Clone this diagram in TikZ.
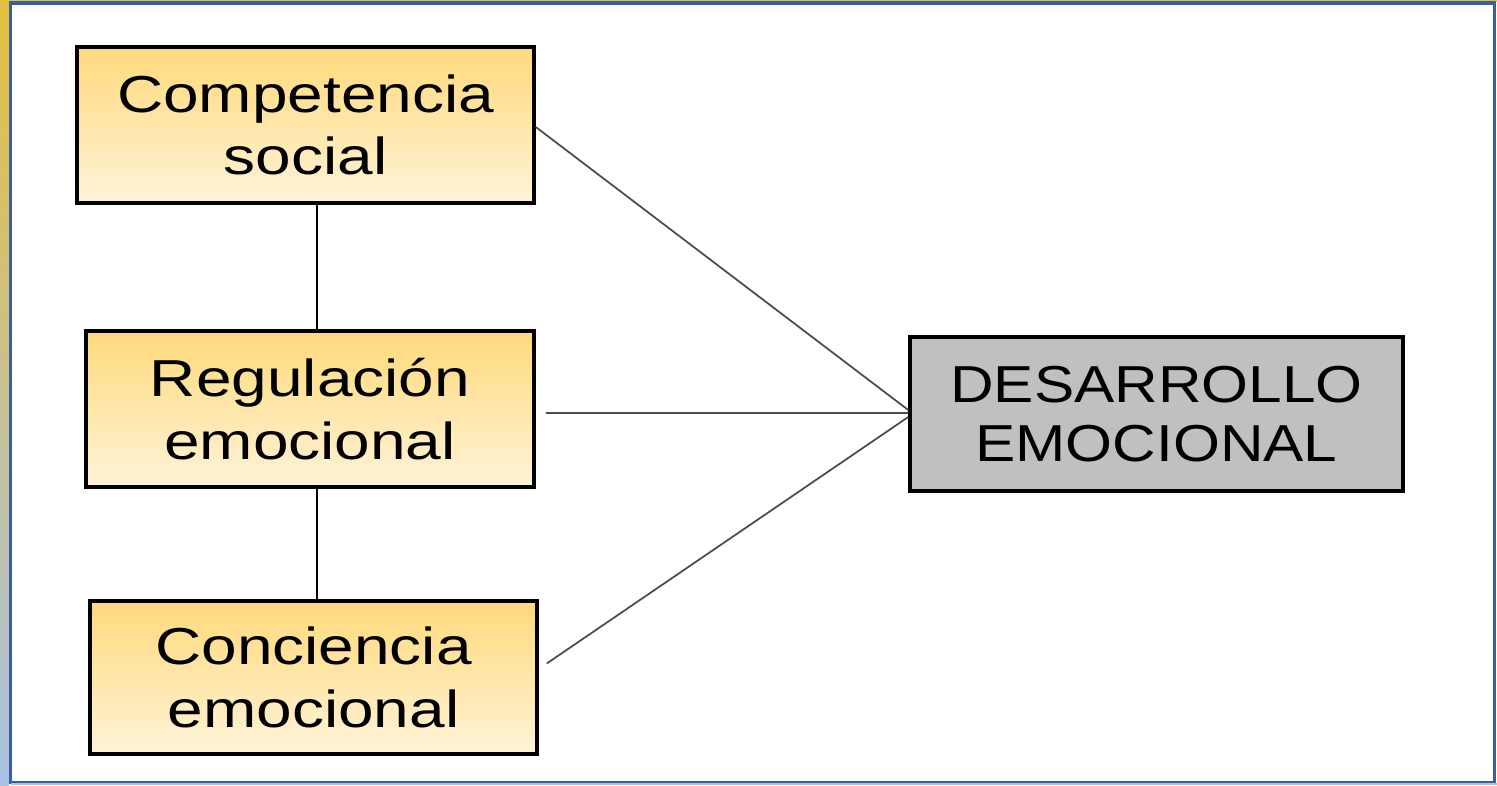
\documentclass[tikz,border=0pt]{standalone}
\usepackage{fontspec}
\setmainfont{Liberation Sans}
\newfontfamily\wideA[FakeStretch=1.23]{Liberation Sans}
\newfontfamily\wideB[FakeStretch=1.16]{Liberation Sans}
\usetikzlibrary{arrows}

\definecolor{gold}{HTML}{E6C03C}
\definecolor{paleblue}{HTML}{A9C0E2}
\definecolor{frameblue}{HTML}{3D5E9E}
\definecolor{boxtop}{HTML}{FFDA7C}
\definecolor{boxbot}{HTML}{FFF3D8}
\definecolor{boxgray}{HTML}{C0C0C0}

\tikzset{
	factor/.style={draw=black, line width=0.07cm, top color=boxtop, bottom color=boxbot,
		inner sep=0pt, align=center, font=\wideA\fontsize{29.6}{35.6}\selectfont},
	result/.style={draw=black, line width=0.07cm, fill=boxgray,
		inner sep=0pt, align=center, font=\wideB\fontsize{29.6}{34}\selectfont},
	link/.style={draw=black!70, line width=0.035cm}
}

\begin{document}
\begin{tikzpicture}[x=0.02cm,y=-0.02cm]
	\useasboundingbox (0,0) rectangle (1497,785);
	% frame
	\fill[white] (0,0) rectangle (1497,785);
	\shade[top color=gold, bottom color=paleblue] (0,0) rectangle (9,785);
	\fill[gold] (9,0) rectangle (1497,1.5);
	\draw[frameblue, line width=0.07cm] (10.5,3) rectangle (1494.5,782.5);
	\draw[paleblue, line width=0.04cm] (10.5,784) -- (1497,784);

	% boxes
	\node[factor, minimum width=457*0.02cm, minimum height=156*0.02cm] (cs) at (305.5,125) {Competencia\\social};
	\node[factor, minimum width=448*0.02cm, minimum height=156*0.02cm] (re) at (310,409) {Regulación\\emocional};
	\node[factor, minimum width=447*0.02cm, minimum height=153*0.02cm] (ce) at (313.5,677.5) {Conciencia\\emocional};
	\node[result, minimum width=493*0.02cm, minimum height=154*0.02cm] (de) at (1156.5,414) {DESARROLLO\\EMOCIONAL};

	% links
	\coordinate (v) at (317,0);
	\draw[line width=0.035cm] (cs.south -| v)--(re.north -| v);
	\draw[line width=0.035cm] (re.south -| v)--(ce.north -| v);
	\draw[link] ([yshift=-0.04cm]cs.east)--([yshift=0.08cm]de.west);
	\draw[link] ([xshift=0.2cm,yshift=-0.08cm]re.east)--([yshift=0.02cm]de.west);
	\draw[link] ([xshift=0.16cm,yshift=0.28cm]ce.east)--([yshift=-0.06cm]de.west);
\end{tikzpicture}
\end{document}
